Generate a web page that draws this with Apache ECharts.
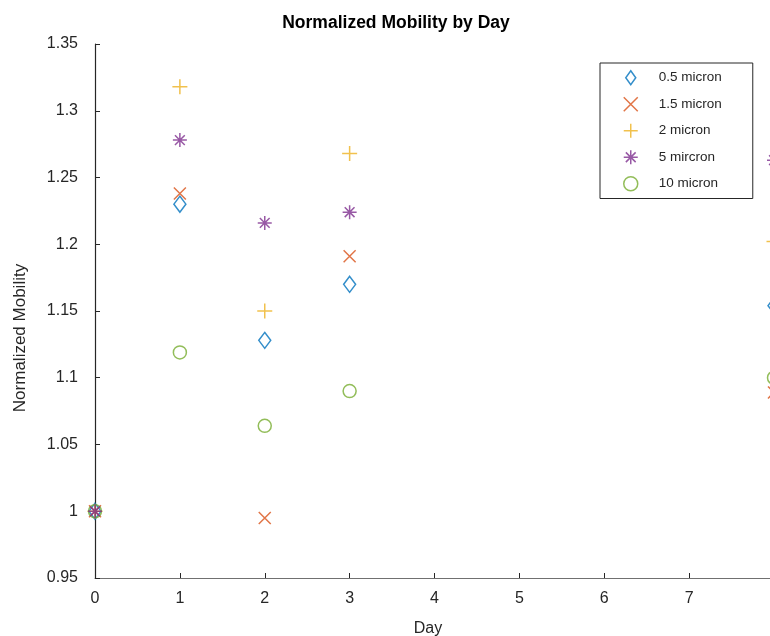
<!DOCTYPE html>
<html>
<head>
<meta charset="utf-8">
<script src="https://cdn.jsdelivr.net/npm/echarts@6/dist/echarts.min.js"></script>
<style>
  html, body { margin: 0; padding: 0; background: #fff; }
  #chart { width: 770px; height: 636px; }
</style>
</head>
<body>
<div id="chart"></div>
<script>
// days on the x axis
var days = [0, 1, 2, 3, 8];

// normalized mobility per particle size
var micron05 = [1.000, 1.230, 1.128, 1.170, 1.154];
var micron15 = [1.000, 1.238, 0.995, 1.191, 1.089];
var micron2  = [1.000, 1.318, 1.150, 1.268, 1.202];
var micron5  = [1.000, 1.278, 1.216, 1.224, 1.263];
var micron10 = [1.000, 1.119, 1.064, 1.090, 1.100];

var seriesNames = ['0.5 micron', '1.5 micron', '2 micron', '5 mircron', '10 micron'];
var yTicks = [0.95, 1.35, 0.05]; // min, max, step

var font = 'Liberation Sans, Arial, Helvetica, sans-serif';
var txt = '#262626';

function pairs(vals) {
    return days.map(function (d, i) { return [d, vals[i]]; });
}

// matlab-ish marker shapes
var markers = [
    {symbol: 'path://M5,0L10,7L5,14L0,7Z', size: [12, 16], color: '#0072BD'},
    {symbol: 'path://M0,0L10,10M10,0L0,10', size: 12, color: '#D95319'},
    {symbol: 'path://M5,0L5,10M0,5L10,5', size: 15, color: '#EDB120'},
    {symbol: 'path://M5,0L5,10M0,5L10,5M1.5,1.5L8.5,8.5M8.5,1.5L1.5,8.5', size: 14, color: '#7E2F8E'},
    {symbol: 'circle', size: 13, color: '#77AC30'}
];
var allData = [micron05, micron15, micron2, micron5, micron10];

var chart = echarts.init(document.getElementById('chart'));

var series = allData.map(function (vals, i) {
    var m = markers[i];
    return {
        name: seriesNames[i],
        type: 'scatter',
        symbol: m.symbol,
        symbolSize: m.size,
        z: i === 3 ? 3 : 2,
        data: pairs(vals),
        itemStyle: {
            color: 'transparent',
            borderColor: m.color,
            borderWidth: 1.5
        },
        emphasis: {disabled: true}
    };
});

var option = {
    animation: false,
    backgroundColor: '#fff',
    title: {
        text: 'Normalized Mobility by Day',
        left: 391,
        textAlign: 'center',
        top: 9,
        textStyle: {fontFamily: font, fontSize: 17.5, fontWeight: 'bold', color: '#000'}
    },
    legend: {
        orient: 'vertical',
        left: 600,
        top: 63,
        padding: [7, 31, 7, 23],
        itemWidth: 14,
        itemHeight: 14,
        itemGap: 11,
        borderColor: '#262626',
        borderWidth: 1,
        backgroundColor: '#fff',
        data: seriesNames,
        itemStyle: {borderWidth: 1.5},
        textStyle: {fontFamily: font, fontSize: 13.5, lineHeight: 14, color: txt, padding: [0, 0, 0, 16]}
    },
    grid: {left: 95, top: 44, width: 679, height: 534, outerBoundsMode: 'none'},
    xAxis: {
        type: 'value',
        min: 0,
        max: 8,
        interval: 1,
        name: 'Day',
        nameLocation: 'middle',
        nameGap: 43,
        nameTextStyle: {fontFamily: font, fontSize: 16, color: txt, padding: [0, 13, 0, 0]},
        axisLine: {lineStyle: {color: '#707070', width: 1.2}},
        axisTick: {inside: true, length: 5, lineStyle: {color: '#262626'}},
        axisLabel: {
            fontFamily: font, fontSize: 16, color: txt, margin: 13,
            showMaxLabel: true, hideOverlap: false, alignMaxLabel: 'center'
        },
        splitLine: {show: false}
    },
    yAxis: {
        type: 'value',
        min: yTicks[0],
        max: yTicks[1],
        interval: yTicks[2],
        name: 'Normalized Mobility',
        nameLocation: 'middle',
        nameGap: 66,
        nameTextStyle: {fontFamily: font, fontSize: 17, color: txt, padding: [0, 54, 0, 0]},
        axisLine: {show: true, lineStyle: {color: '#262626', width: 1.2}},
        axisTick: {show: true, inside: true, length: 5, lineStyle: {color: '#262626'}},
        axisLabel: {
            fontFamily: font, fontSize: 16, color: txt, margin: 17,
            formatter: function (v) { return String(+v.toFixed(2)); }
        },
        splitLine: {show: false}
    },
    series: series
};

chart.setOption(option);
</script>
</body>
</html>
